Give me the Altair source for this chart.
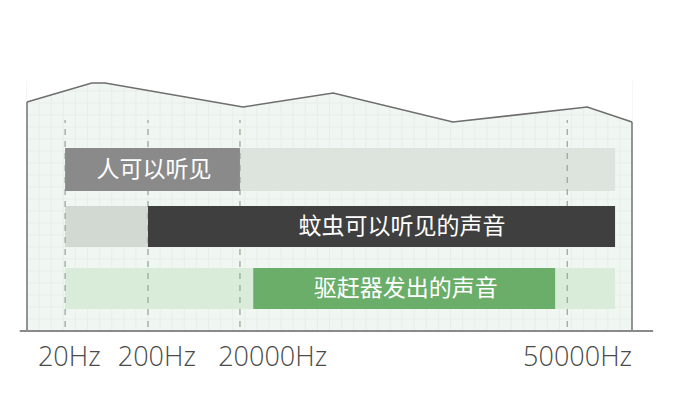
import altair as alt
import pandas as pd
import numpy as np

# schematic x positions (0 = left edge of the panel, 100 = right edge)
profile_x = [0, 10.7, 12.9, 35.7, 50.6, 70.4, 92.6, 100]
profile_y = [91.6, 99.2, 99.2, 89.6, 95.2, 83.6, 89.6, 83.6]

guide_x = [6.3, 20.0, 35.2, 89.3]
tick_labels = ["20Hz", "200Hz", "20000Hz", "50000Hz"]
tick_label_x = [1.8, 15.0, 31.6, 82.0]

bar_start = [6.3, 6.3, 35.2, 6.3, 20.0, 6.3, 37.4]
bar_end = [35.2, 97.2, 97.2, 20.0, 97.2, 97.2, 87.3]
bar_low = [56, 56, 56, 33.6, 33.6, 8.8, 8.8]
bar_high = [73.2, 73.2, 73.2, 50, 50, 25.2, 25.2]
bar_color = ["#8a8a8a", "#dde3dd", "#dde3dd", "#d2d8d2", "#3f3f3f", "#d9ecd9", "#6aae6a"]
bar_layer = [1, 0, 0, 0, 1, 0, 1]

row_labels = ["人可以听见", "蚊虫可以听见的声音", "驱赶器发出的声音"]
row_label_x = [21.0, 62.0, 62.6]
row_label_y = [64.4, 41.6, 16.8]

XD = [-3.14, 105.62]
YD = [-25.2, 129.2]
xs = alt.Scale(domain=XD, nice=False, zero=False)
ys = alt.Scale(domain=YD, nice=False, zero=False)

prof = pd.DataFrame({"x": profile_x, "y": profile_y})
prof["top"] = 100.0
prof["bot"] = 0.0

edges = pd.DataFrame({"x": [profile_x[0], profile_x[-1]], "y": [0.0, 0.0],
                      "y2": [profile_y[0], profile_y[-1]]})

gvx = np.arange(0, 100.1, 2.0)
grid_v = pd.DataFrame({"x": gvx, "y": [0.0] * len(gvx), "y2": [100.0] * len(gvx)})
ghy = np.arange(0, 100.1, 4.8)
grid_h = pd.DataFrame({"y": ghy, "x": [0.0] * len(ghy), "x2": [100.0] * len(ghy)})

bars = pd.DataFrame({"x": bar_start, "x2": bar_end, "y": bar_low, "y2": bar_high,
                     "c": bar_color, "layer": bar_layer})
guides = pd.DataFrame({"x": guide_x, "y": [1.6] * 4, "y2": [84.4] * 4})
ticks = pd.DataFrame({"x": tick_label_x, "y": [-14.0] * 4, "t": tick_labels})
rowtxt = pd.DataFrame({"x": row_label_x, "y": row_label_y, "t": row_labels})
axis_df = pd.DataFrame({"x": [-1.2], "x2": [103.5], "y": [0.0]})


def X(f="x"):
    return alt.X(f"{f}:Q", scale=xs, axis=None)


def Y(f="y"):
    return alt.Y(f"{f}:Q", scale=ys, axis=None)


fill = alt.Chart(prof).mark_area(color="#f0f6f1", opacity=1).encode(
    x=X(), y=Y(), y2="bot:Q")

gv = alt.Chart(grid_v).mark_rule(color="#e7efe8", strokeWidth=1).encode(
    x=X(), y=Y(), y2="y2:Q")
gh = alt.Chart(grid_h).mark_rule(color="#e7efe8", strokeWidth=1).encode(
    y=Y(), x=X(), x2="x2:Q")

cover = alt.Chart(prof).mark_area(color="white", opacity=1).encode(
    x=X(), y=Y(), y2="top:Q")

outline = alt.Chart(prof).mark_line(color="#6e6e6e", strokeWidth=1.6).encode(
    x=X(), y=Y())

edge_lines = alt.Chart(edges).mark_rule(color="#7a7a7a", strokeWidth=1.6).encode(
    x=X(), y=Y(), y2="y2:Q")

base_rule = alt.Chart(axis_df).mark_rule(color="#8a8a8a", strokeWidth=2).encode(
    x=X(), x2="x2:Q", y=Y())

bar_back = alt.Chart(bars).transform_filter("datum.layer == 0").mark_rect().encode(
    x=X(), x2="x2:Q", y=Y(), y2="y2:Q", color=alt.Color("c:N", scale=None))

guide_lines = alt.Chart(guides).mark_rule(color="#9aab9a", strokeWidth=1.3,
                                          strokeDash=[6, 6]).encode(
    x=X(), y=Y(), y2="y2:Q")

bar_front = alt.Chart(bars).transform_filter("datum.layer == 1").mark_rect().encode(
    x=X(), x2="x2:Q", y=Y(), y2="y2:Q", color=alt.Color("c:N", scale=None))

row_text = alt.Chart(rowtxt).mark_text(color="white", fontSize=23,
                                       font="Noto Sans CJK SC", align="center",
                                       baseline="middle").encode(
    x=X(), y=Y(), text="t:N")

tick_text = alt.Chart(ticks).mark_text(color="#4a4a4a", fontSize=27, font="Open Sans",
                                       fontWeight=300, align="left",
                                       baseline="alphabetic").encode(
    x=X(), y=Y(), text="t:N")

chart = alt.layer(fill, gv, gh, cover, outline, edge_lines, base_rule, bar_back,
                  guide_lines, bar_front, row_text, tick_text).properties(
    width=658, height=386, autosize=alt.AutoSizeParams(type="none"),
    padding=0, background="white"
).configure_view(stroke=None)

chart.save("out.html", embed_options={"renderer": "svg", "actions": False})
